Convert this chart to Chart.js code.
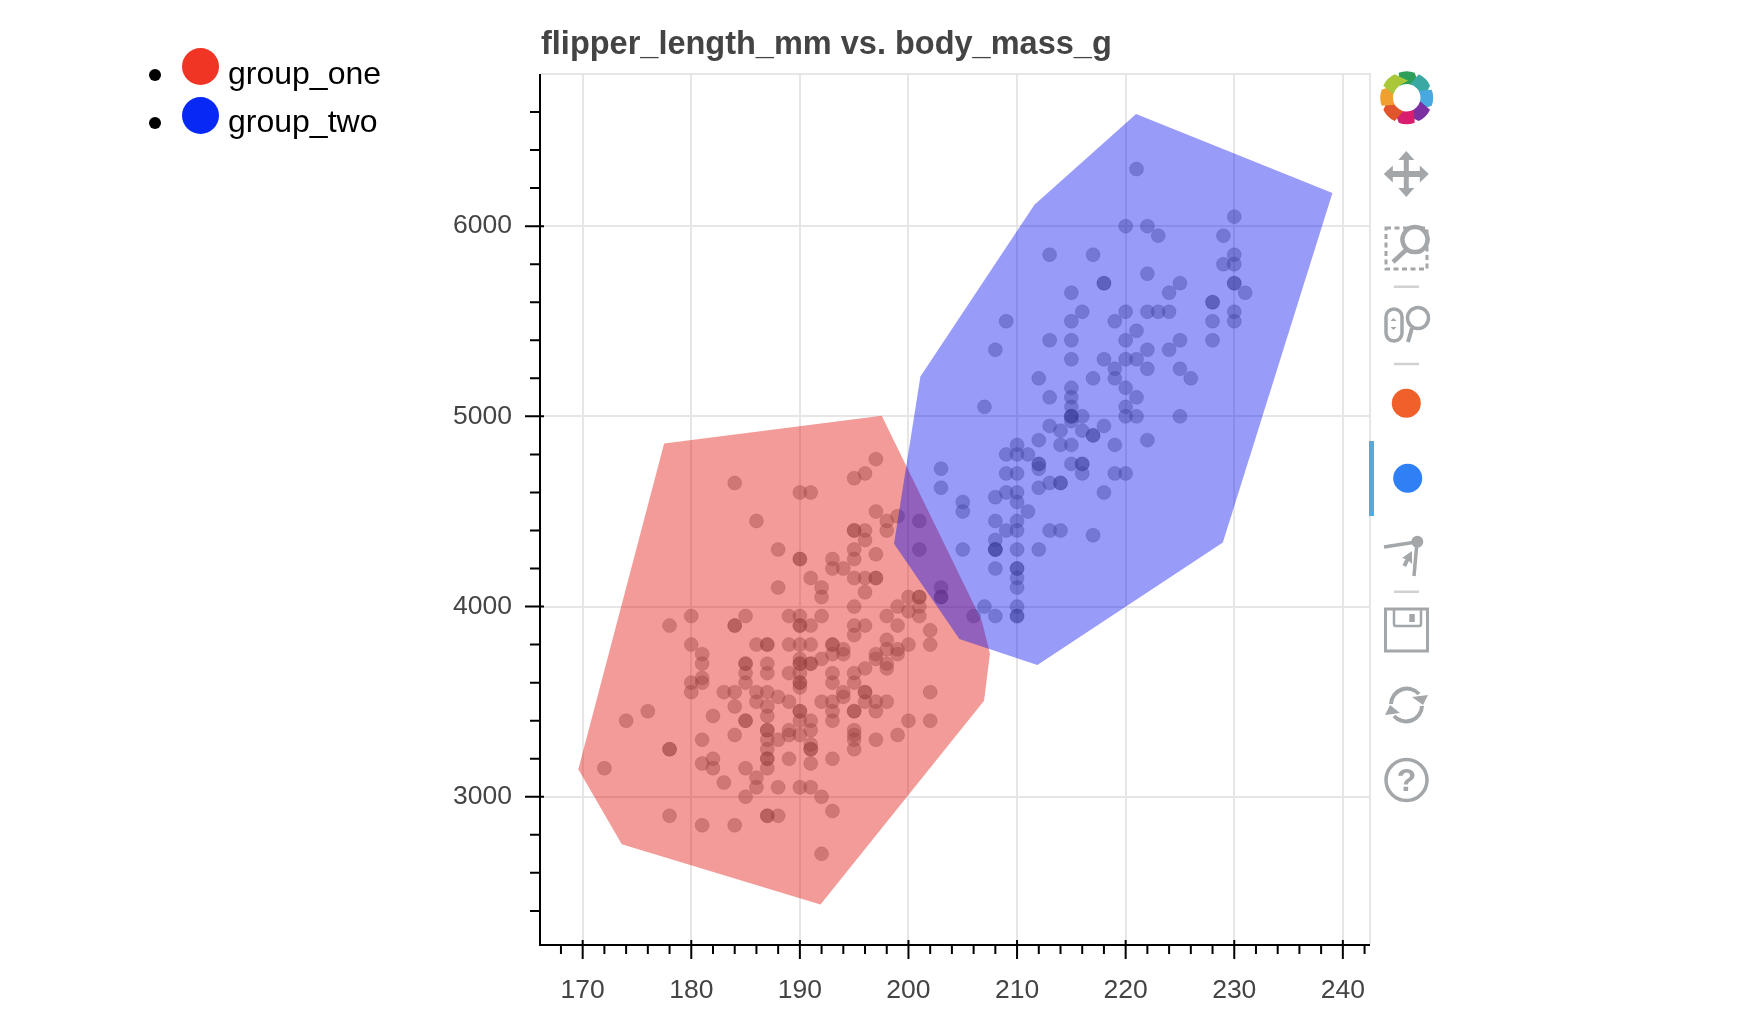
<!DOCTYPE html>
<html><head><meta charset="utf-8">
<script src="https://cdn.jsdelivr.net/npm/chart.js@4"></script>
<style>
html,body{margin:0;padding:0;background:#fff;width:1756px;height:1022px;overflow:hidden;font-family:"Liberation Sans",Arial,sans-serif}
#wrap{position:absolute;left:0;top:0;width:1756px;height:1022px;filter:blur(0.45px)}
ul{position:absolute;left:0;top:0;margin:0;padding:0;list-style:none;filter:blur(0.3px)}
li{position:absolute;white-space:nowrap;font-size:32px;line-height:38px;color:#000}
.bul{position:absolute;width:12px;height:12px;border-radius:50%;background:#000}
.dot{position:absolute;width:37px;height:37px;border-radius:50%}
svg{position:absolute;left:0;top:0;filter:blur(0.6px)}
</style></head><body>
<div id="wrap"><canvas id="c" width="1756" height="1022" style="width:1756px;height:1022px"></canvas></div>
<ul id="legend"></ul>
<svg width="1756" height="1022" id="tools" fill="none" stroke="#a3a7aa" stroke-width="3.5">
 <g id="logo"></g>
 <path fill="#a3a7aa" stroke="none" d="M1406.3 151l8 9h-5.5v11h11v-5.5l9 8.500-9 8.500v-5.500h-11v11h5.500l-8 9-8-9h5.500v-11h-11v5.500l-9-8.500 9-8.500v5.500h11v-11h-5.500z"/>
 <rect x="1386" y="228" width="41" height="41" stroke-dasharray="5 3.500" stroke-width="3"/>
 <path d="M1415 227a12.500 12.500 0 1 0 .01 0zM1406 250l-13 12" fill="#fff" stroke-width="4.500"/>
 <path d="M1394 286.700h25M1394 364h25M1394 591.700h25" stroke="#cfd1d2" stroke-width="2.500"/>
 <rect x="1386" y="309" width="16" height="32" rx="8" stroke-width="3.500"/>
 <path d="M1393.500 318l-3 3h6zM1393.500 330l-3-3h6z" fill="#a3a7aa" stroke="none"/>
 <circle cx="1418" cy="318" r="10.500"/><path d="M1412 328l-4 14" stroke-width="4"/>
 <circle cx="1406.300" cy="403.300" r="14.500" fill="#f0602b" stroke="none"/>
 <circle cx="1407.700" cy="478.300" r="14.500" fill="#2f7ff5" stroke="none"/>
 <rect x="1369" y="441" width="5" height="75" fill="#54aadf" stroke="none"/>
 <path d="M1384 547l32-5M1417 542l-3 34" stroke-width="3.500"/><circle cx="1417.300" cy="541.700" r="6" fill="#a3a7aa" stroke="none"/>
 <path d="M1412 551l-10 7 3.500 1-3 6 3.500 2 3-6 3 3z" fill="#a3a7aa" stroke="none"/>
 <rect x="1385.500" y="609" width="42" height="42" stroke-width="3"/>
 <path d="M1394 609v15q0 2 2 2h23q2 0 2-2v-15" stroke-width="2.500"/>
 <rect x="1409.300" y="614" width="5.500" height="8" fill="#a3a7aa" stroke="none"/>
 <path d="M1391 704a16 16 0 0 1 28-10M1422 706a16 16 0 0 1-28 10" stroke-width="4"/>
 <path d="M1412 697l16-2-5 10zM1400 713l-15 2 5-10z" fill="#a3a7aa" stroke="none"/>
 <circle cx="1406.500" cy="780" r="20.500" stroke-width="3.500"/>
 <text x="1406.500" y="791" text-anchor="middle" font-family="Liberation Sans" font-weight="bold" font-size="32" fill="#a3a7aa" stroke="none">?</text>
</svg>
<script>
const chartTitle = "flipper_length_mm vs. body_mass_g";
const groupNames = ["group_one", "group_two"];
const legendColors = ["#f03524", "#0829f5"];
const xRange = [166.07, 242.5];
const yRange = [2226, 6800];
const xTickValues = [168,170,172,174,176,178,180,182,184,186,188,190,192,194,196,198,200,202,204,206,208,210,212,214,216,218,220,222,224,226,228,230,232,234,236,238,240,242];
const yTickValues = [2400,2600,2800,3000,3200,3400,3600,3800,4000,4200,4400,4600,4800,5000,5200,5400,5600,5800,6000,6200,6400,6600];

const groupOnePoints = [
[197,4775],[196,4700],[195,4675],[184,4650],[190,4600],[191,4600],[186,4450],[197,4500],[198,4450],[199,4475],
[196,4400],[195,4400],[195,4400],[198,4400],[196,4350],[195,4300],[197,4275],[195,4250],[188,4300],[190,4250],[190,4250],
[193,4250],[193,4200],[194,4200],[191,4150],[192,4100],[192,4050],[195,4150],[196,4150],[197,4150],[197,4150],[196,4075],
[188,4100],[200,4050],[201,4050],[201,4050],[201,4000],[201,3950],[200,3975],[199,4000],[195,4000],[198,3950],[199,3900],
[202,3875],[202,3800],[200,3800],[198,3825],[198,3775],[199,3775],[199,3750],[197,3750],[197,3725],[198,3700],[198,3675],
[196,3675],[195,3900],[196,3900],[195,3850],[194,3775],[194,3750],[193,3800],[193,3800],[193,3750],[192,3725],[191,3700],
[191,3700],[190,3700],[190,3700],[190,3725],[190,3800],[191,3800],[189,3800],[189,3950],[190,3950],[190,3900],[190,3900],
[191,3900],[192,3950],[185,3950],[184,3900],[184,3900],[180,3950],[178,3900],[180,3800],[186,3800],[187,3800],[187,3800],
[181,3750],[181,3700],[185,3700],[185,3700],[187,3700],[187,3650],[185,3650],[185,3600],[189,3650],[190,3650],[190,3600],
[190,3600],[190,3575],[193,3650],[193,3600],[195,3650],[195,3600],[181,3625],[181,3600],[180,3600],[180,3550],[183,3550],
[184,3550],[186,3550],[187,3550],[188,3525],[189,3500],[202,3550],[194,3550],[194,3525],[196,3550],[196,3550],[197,3500],
[198,3500],[192,3500],[186,3500],[187,3475],[187,3425],[193,3500],[193,3450],[193,3400],[196,3500],[197,3450],[195,3450],
[195,3450],[200,3400],[202,3400],[199,3325],[197,3300],[190,3450],[190,3450],[190,3400],[191,3400],[191,3350],[189,3350],
[189,3325],[190,3325],[188,3300],[187,3350],[187,3350],[187,3300],[187,3250],[187,3200],[187,3200],[187,3150],[191,3275],
[191,3250],[191,3250],[191,3175],[193,3200],[189,3200],[195,3350],[195,3325],[195,3300],[195,3250],[184,3475],[182,3425],
[185,3400],[185,3400],[184,3325],[181,3300],[178,3250],[178,3250],[176,3450],[174,3400],[172,3150],[181,3175],[182,3200],
[182,3150],[185,3150],[183,3075],[186,3100],[186,3050],[185,3000],[188,3050],[190,3050],[191,3050],[192,3000],[193,2925],
[178,2900],[181,2850],[184,2850],[187,2900],[187,2900],[188,2900],[192,2700],[201,4450],[201,4300],[203,4100],[203,4050],
[203,4050],[206,3950]];

const groupTwoPoints = [
[221,6300],[220,6000],[222,6000],[223,5950],[230,6050],[229,5950],[213,5850],[217,5850],[230,5850],[229,5800],[230,5800],
[222,5750],[218,5700],[218,5700],[225,5700],[224,5650],[215,5650],[230,5700],[230,5700],[231,5650],[228,5600],[228,5600],
[230,5550],[230,5500],[228,5500],[228,5400],[216,5550],[215,5500],[219,5500],[220,5550],[222,5550],[223,5550],[224,5550],
[209,5500],[208,5350],[221,5450],[213,5400],[215,5400],[220,5400],[225,5400],[224,5350],[222,5350],[215,5300],[218,5300],
[220,5300],[221,5300],[222,5250],[219,5250],[225,5250],[226,5200],[212,5200],[217,5200],[219,5200],[215,5150],[220,5150],
[213,5100],[215,5100],[221,5100],[207,5050],[215,5050],[215,5000],[215,5000],[215,5000],[215,4975],[216,5000],[220,5050],
[220,5000],[221,5000],[225,5000],[213,4950],[214,4925],[216,4925],[218,4950],[217,4900],[217,4900],[219,4850],[222,4875],
[212,4875],[214,4850],[215,4850],[210,4850],[209,4800],[210,4800],[211,4800],[212,4750],[212,4750],[212,4725],[215,4750],
[216,4750],[216,4750],[216,4700],[219,4700],[220,4700],[203,4725],[203,4625],[209,4700],[210,4700],[212,4625],[213,4650],
[214,4650],[214,4650],[218,4600],[209,4600],[210,4600],[208,4575],[210,4550],[205,4550],[205,4500],[211,4500],[208,4450],
[210,4450],[209,4400],[210,4400],[213,4400],[214,4400],[217,4375],[208,4350],[208,4300],[208,4300],[208,4300],[210,4300],
[212,4300],[205,4300],[208,4200],[210,4200],[210,4200],[210,4150],[210,4100],[207,4000],[210,4000],[208,3950],[210,3950],
[210,3950]];

const groupOneHull = [[197.54,5003],[177.5,4858],[169.6,3145],[173.6,2751],[191.9,2434],[206.96,3505],[207.5,3753],[206.75,3925],[197.54,5003]];
const groupTwoHull = [[220.96,6590],[211.6,6112],[201.1,5209],[198.67,4330],[204.69,3829],[211.87,3693],[228.95,4337],[239.04,6175],[220.96,6590]];

const xMajorTicks = 10, yMajorTicks = 1000;

const toXY = a => a.map(p => ({x:p[0], y:p[1]}));
const toTicks = a => a.map(v => ({value:v}));
const pointStyle = {type:'scatter', showLine:false, pointRadius:7, pointBorderWidth:1,
  pointBackgroundColor:'rgba(95,95,95,0.38)', pointBorderColor:'rgba(60,60,60,0.16)', pointHoverRadius:7};
const hullStyle = {type:'scatter', showLine:true, fill:'shape', borderWidth:0, pointRadius:0, pointHoverRadius:0, tension:0};

const tickMarks = {
  id:'tickMarks',
  beforeDatasetsDraw(chart){
    const {ctx, chartArea:a} = chart;
    ctx.save(); ctx.strokeStyle='#e6e6e6'; ctx.lineWidth=2;
    ctx.beginPath(); ctx.moveTo(a.left,a.top); ctx.lineTo(a.right,a.top); ctx.lineTo(a.right,a.bottom); ctx.stroke(); ctx.restore();
  },
  afterDraw(chart){
    const {ctx, chartArea:a, scales:{x,y}} = chart;
    ctx.save(); ctx.strokeStyle='#000'; ctx.lineWidth=2;
    ctx.beginPath(); ctx.moveTo(a.left,a.top); ctx.lineTo(a.left,a.bottom+1); ctx.lineTo(a.right,a.bottom+1);
    x.ticks.forEach(t=>{const m=t.value%xMajorTicks===0, p=x.getPixelForValue(t.value);
      ctx.moveTo(p,a.bottom+(m?15:10)); ctx.lineTo(p,a.bottom-(m?4:0));});
    y.ticks.forEach(t=>{const m=t.value%yMajorTicks===0, p=y.getPixelForValue(t.value);
      ctx.moveTo(a.left-(m?15:10),p); ctx.lineTo(a.left+(m?4:0),p);});
    ctx.stroke(); ctx.restore();
  },
  afterLayout(chart){ if(chart.titleBlock){ chart.titleBlock.left=541; chart.titleBlock.right=1370; } }
};

new Chart(document.getElementById('c'), {
  data:{datasets:[
    {label:groupNames[0]+' points', data:toXY(groupOnePoints), order:4, ...pointStyle},
    {label:groupNames[1]+' points', data:toXY(groupTwoPoints), order:3, ...pointStyle},
    {label:groupNames[0], data:toXY(groupOneHull), order:2, backgroundColor:'rgba(227,17,10,0.42)', ...hullStyle},
    {label:groupNames[1], data:toXY(groupTwoHull), order:1, backgroundColor:'rgba(10,17,238,0.42)', ...hullStyle}
  ]},
  options:{
    responsive:false, animation:false, events:[], devicePixelRatio:1,
    layout:{padding:{left:380, right:386, top:0, bottom:0}},
    plugins:{
      legend:{display:false}, tooltip:{enabled:false},
      title:{display:true, text:chartTitle, align:'start', color:'#444',
        font:{family:'"Liberation Sans"', size:32.5, weight:'bold', lineHeight:1.2}, padding:{top:26,bottom:9}}
    },
    scales:{
      x:{type:'linear', min:xRange[0], max:xRange[1], afterFit(s){s.height=78;},
        afterBuildTicks(s){s.ticks=toTicks(xTickValues);},
        border:{display:false},
        grid:{drawTicks:false, lineWidth:2, color:c=>c.tick && c.tick.value%xMajorTicks===0?'#e6e6e6':'rgba(0,0,0,0)'},
        ticks:{autoSkip:false, maxRotation:0, padding:31, color:'#444',
          font:{family:'"Liberation Sans"', size:26.5},
          callback:v=>v%xMajorTicks===0?String(v):''}},
      y:{type:'linear', min:yRange[0], max:yRange[1], afterFit(s){s.width=160;},
        afterBuildTicks(s){s.ticks=toTicks(yTickValues);},
        border:{display:false},
        grid:{drawTicks:false, lineWidth:2, color:c=>c.tick && c.tick.value%yMajorTicks===0?'#e6e6e6':'rgba(0,0,0,0)'},
        ticks:{autoSkip:false, padding:28, color:'#444',
          font:{family:'"Liberation Sans"', size:26.5},
          callback:v=>v%yMajorTicks===0?String(v):''}}
    }
  },
  plugins:[tickMarks]
});

/* html legend */
const legendRows = [{bullet:75,dot:66.7,text:64.5},{bullet:123.3,dot:115,text:112.5}];
const ul = document.getElementById('legend');
groupNames.forEach((n,i)=>{
  const r = legendRows[i];
  const b = document.createElement('span'); b.className='bul'; b.style.left='149px'; b.style.top=(r.bullet-6)+'px'; ul.appendChild(b);
  const d = document.createElement('span'); d.className='dot'; d.style.left='182px'; d.style.top=(r.dot-18.5)+'px'; d.style.background=legendColors[i]; ul.appendChild(d);
  const li = document.createElement('li'); li.textContent=n; li.style.left='228px'; li.style.top=(r.text-19+8)+'px'; ul.appendChild(li);
});

/* toolbar logo petals */
const petals = ['#2e9e5b','#3aa9a3','#4aa8e0','#7b2fa0','#d81f6f','#e0552b','#f0a030','#a8c83a'];
const logo = document.getElementById('logo');
petals.forEach((c,i)=>{
  const a = i*45, e = document.createElementNS('http://www.w3.org/2000/svg','path');
  e.setAttribute('d','M-8 -25Q0 -28 8 -25L13 -11Q0 -16 -7 -12Z');
  e.setAttribute('fill',c); e.setAttribute('stroke','none');
  e.setAttribute('transform',`translate(1406.7 97.7) rotate(${a})`);
  logo.appendChild(e);
});
</script>
</body></html>
